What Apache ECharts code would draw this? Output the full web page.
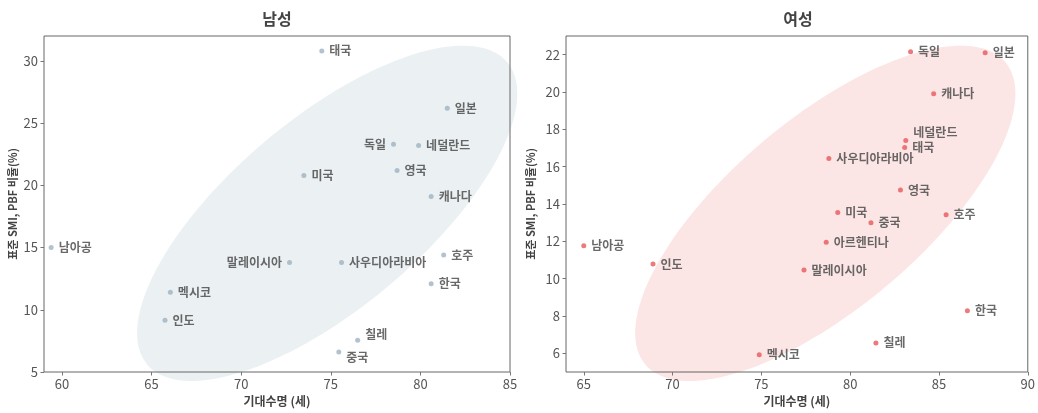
<!DOCTYPE html>
<html>
<head>
<meta charset="utf-8">
<script src="https://cdn.jsdelivr.net/npm/echarts@6/dist/echarts.min.js"></script>
<style>
	html, body { margin: 0; padding: 0; background: #fff; }
	#chart { width: 1038px; height: 413px; }
</style>
</head>
<body>
<div id="chart"></div>
<script>
// 남성
var maleCountries = ['태국', '일본', '독일', '네덜란드', '영국', '미국', '캐나다', '남아공', '말레이시아', '사우디아라비아', '호주', '한국', '멕시코', '인도', '칠레', '중국'];
var maleLife = [74.5, 81.5, 78.5, 79.9, 78.7, 73.5, 80.6, 59.4, 72.7, 75.6, 81.3, 80.6, 66.05, 65.75, 76.5, 75.45];
var maleSmi = [30.8, 26.2, 23.3, 23.2, 21.2, 20.8, 19.1, 15.0, 13.8, 13.8, 14.4, 12.1, 11.4, 9.15, 7.55, 6.6];

// 여성
var femaleCountries = ['독일', '일본', '캐나다', '네덜란드', '태국', '사우디아라비아', '영국', '미국', '중국', '호주', '남아공', '아르헨티나', '인도', '말레이시아', '한국', '칠레', '멕시코'];
var femaleLife = [83.4, 87.6, 84.7, 83.13, 83.07, 78.8, 82.83, 79.3, 81.17, 85.4, 65.0, 78.65, 68.9, 77.4, 86.6, 81.45, 74.88];
var femaleSmi = [22.15, 22.1, 19.9, 17.4, 17.03, 16.44, 14.75, 13.54, 13.0, 13.43, 11.76, 11.95, 10.78, 10.46, 8.28, 6.56, 5.93];

// 강조 타원 중심 (데이터 좌표)
var maleEllipseCenter = [74.8, 17.75];
var femaleEllipseCenter = [78.6, 13.5];

// 라벨 위치 조정
var labelLeft = { '남성': ['독일', '말레이시아'], '여성': [] };
var labelShift = {
	'남성': { '칠레': [0, -6], '중국': [0, 5] },
	'여성': { '네덜란드': [0, -8] }
};

var FONT = '"Noto Sans CJK KR", "Noto Sans", sans-serif';

function buildPoints(group, names, xs, ys) {
	var out = [];
	for (var i = 0; i < names.length; i++) {
		var item = { name: names[i], value: [xs[i], ys[i]] };
		if (labelLeft[group].indexOf(names[i]) >= 0) {
			item.label = { position: 'left' };
		} else if (labelShift[group][names[i]]) {
			item.label = { offset: labelShift[group][names[i]] };
		}
		out.push(item);
	}
	return out;
}

function ellipseRender(color) {
	return function(params, api) {
		var c = api.coord([api.value(0), api.value(1)]);
		var rx = 235, ry = 95, th = 40 * Math.PI / 180;
		var pts = [];
		for (var i = 0; i < 144; i++) {
			var t = i / 144 * 2 * Math.PI;
			var ex = rx * Math.cos(t), ey = ry * Math.sin(t);
			pts.push([c[0] + ex * Math.cos(th) - ey * Math.sin(th), c[1] - (ex * Math.sin(th) + ey * Math.cos(th))]);
		}
		return { type: 'polygon', shape: { points: pts }, style: { fill: color } };
	};
}

function xAxisCfg(idx, min, max) {
	return {
		gridIndex: idx, type: 'value', min: min, max: max, splitNumber: 5, z: 4,
		name: '기대수명 (세)', nameLocation: 'middle', nameGap: 23,
		nameTextStyle: { color: '#444', fontSize: 12, fontWeight: 'bold', fontFamily: FONT },
		axisLine: { show: false },
		axisTick: { show: true, length: 3.5, lineStyle: { color: '#777' } },
		axisLabel: { color: '#555', fontSize: 13, fontFamily: FONT, margin: 6, showMinLabel: false },
		splitLine: { show: false }
	};
}

function yAxisCfg(idx, min, max, split, gap) {
	return {
		gridIndex: idx, type: 'value', min: min, max: max, splitNumber: split, z: 4,
		name: '표준 SMI, PBF 비율(%)', nameLocation: 'middle', nameGap: gap,
		nameTextStyle: { color: '#444', fontSize: 11, fontWeight: 'bold', fontFamily: FONT },
		axisLine: { show: false },
		axisTick: { show: true, length: 3.5, lineStyle: { color: '#777' } },
		axisLabel: { color: '#555', fontSize: 13, fontFamily: FONT, margin: 6, showMaxLabel: false },
		splitLine: { show: false }
	};
}

var pointLabel = {
	show: true, position: 'right', distance: 5, formatter: '{b}',
	color: '#444', fontSize: 12, fontWeight: 'bold', fontFamily: FONT
};

var yLeft = yAxisCfg(0, 5, 32, 5, 26);
var yRight = yAxisCfg(1, 5, 23, 9, 30);
yRight.axisLabel.showMinLabel = false;

var chart = echarts.init(document.getElementById('chart'), null, { renderer: 'canvas' });
chart.setOption({
	animation: false,
	backgroundColor: '#fff',
	textStyle: { fontFamily: FONT },
	title: [
		{ text: '남성', left: 277, top: 11, padding: 0, textAlign: 'center', textStyle: { color: '#444', fontSize: 16, fontWeight: 'bold', fontFamily: FONT } },
		{ text: '여성', left: 798, top: 11, padding: 0, textAlign: 'center', textStyle: { color: '#444', fontSize: 16, fontWeight: 'bold', fontFamily: FONT } }
	],
	grid: [
		{ left: 44, right: 528, top: 36, bottom: 41, show: true, z: 3, borderColor: '#666', borderWidth: 1, backgroundColor: 'transparent' },
		{ left: 566, right: 7, top: 36, bottom: 41, show: true, z: 3, borderColor: '#666', borderWidth: 1, backgroundColor: 'transparent' }
	],
	xAxis: [xAxisCfg(0, 59, 85), xAxisCfg(1, 64, 90)],
	yAxis: [yLeft, yRight],
	series: [
		{
			type: 'custom', xAxisIndex: 0, yAxisIndex: 0, z: 1, silent: true, clip: false,
			renderItem: ellipseRender('#ebf0f2'),
			data: [maleEllipseCenter]
		},
		{
			type: 'custom', xAxisIndex: 1, yAxisIndex: 1, z: 1, silent: true, clip: false,
			renderItem: ellipseRender('#fbe5e5'),
			data: [femaleEllipseCenter]
		},
		{
			type: 'scatter', xAxisIndex: 0, yAxisIndex: 0, z: 5,
			symbolSize: 5, itemStyle: { color: '#9fb3c2' },
			label: pointLabel,
			data: buildPoints('남성', maleCountries, maleLife, maleSmi)
		},
		{
			type: 'scatter', xAxisIndex: 1, yAxisIndex: 1, z: 5,
			symbolSize: 5, itemStyle: { color: '#e8585a' },
			label: pointLabel,
			data: buildPoints('여성', femaleCountries, femaleLife, femaleSmi)
		}
	]
});
</script>
</body>
</html>
